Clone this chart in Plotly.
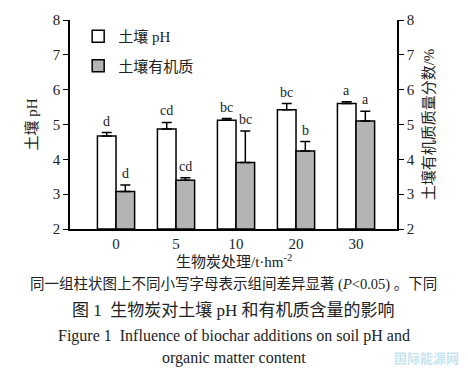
import plotly.graph_objects as go

categories = ["0", "5", "10", "20", "30"]
ph_values = [4.67, 4.87, 5.12, 5.42, 5.60]
ph_err = [0.10, 0.19, 0.05, 0.18, 0.05]
ph_letters = ["d", "cd", "bc", "bc", "a"]
om_values = [3.08, 3.40, 3.91, 4.24, 5.10]
om_err = [0.18, 0.07, 0.90, 0.27, 0.28]
om_letters = ["d", "cd", "bc", "b", "a"]
y_ticks = [2, 3, 4, 5, 6, 7, 8]

SERIF = "Liberation Serif, Times New Roman, Noto Sans CJK SC"
CJK = "Liberation Serif, Noto Sans CJK SC"

xs = list(range(len(categories)))
bar_w = 0.31

fig = go.Figure()
fig.add_trace(go.Bar(
    x=xs, y=[v - 2 for v in ph_values], base=2, name="土壤 pH", legendgroup="ph",
    marker=dict(color="white", line=dict(color="black", width=1.5)),
    error_y=dict(type="data", symmetric=False, array=ph_err, arrayminus=[0]*5,
                 color="black", thickness=1.5, width=5),
    offset=-bar_w, width=bar_w,
))
fig.add_trace(go.Bar(
    x=xs, y=[v - 2 for v in om_values], base=2, name="土壤有机质", legendgroup="om",
    marker=dict(color="#b4b4b4", line=dict(color="black", width=1.5)),
    error_y=dict(type="data", symmetric=False, array=om_err, arrayminus=[0]*5,
                 color="black", thickness=1.5, width=5),
    offset=0, width=bar_w,
))
# invisible trace so the right axis is drawn
fig.add_trace(go.Scatter(x=xs, y=om_values, yaxis="y2", mode="markers",
                         marker=dict(opacity=0), showlegend=False, hoverinfo="skip"))

annotations = []
for i in xs:
    annotations.append(dict(x=i - bar_w / 2, y=ph_values[i] + ph_err[i], text=ph_letters[i],
                            showarrow=False, yanchor="bottom", yshift=2,
                            font=dict(family=SERIF, size=14, color="#222")))
    annotations.append(dict(x=i + bar_w / 2, y=om_values[i] + om_err[i], text=om_letters[i],
                            showarrow=False, yanchor="bottom", yshift=2,
                            font=dict(family=SERIF, size=14, color="#222")))

plot_left, plot_right, plot_top, plot_bottom = 70, 397, 12, 229
W, H = 468, 378


def px_to_paper(px, py):
    return ((px - plot_left) / (plot_right - plot_left),
            (plot_bottom - py) / (plot_bottom - plot_top))


captions = [
    dict(text="生物炭处理/t·hm<sup>-2</sup>", y=262, size=15, fam=CJK),
    dict(text="同一组柱状图上不同小写字母表示组间差异显著 (<i>P</i><0.05) 。下同", y=287, size=14.5, fam=CJK),
    dict(text="图 1  生物炭对土壤 pH 和有机质含量的影响", y=313, size=17, fam=CJK),
    dict(text="Figure 1  Influence of biochar additions on soil pH and", y=340, size=16, fam=SERIF),
    dict(text="organic matter content", y=363, size=16, fam=SERIF),
]
for c in captions:
    ax, ay = px_to_paper(234, c["y"])
    annotations.append(dict(x=ax, y=ay, xref="paper", yref="paper", yanchor="middle",
                            text=c["text"], showarrow=False,
                            font=dict(family=c["fam"], size=c["size"], color="#222")))

wx, wy = px_to_paper(392, 362)
annotations.append(dict(x=wx, y=wy, xref="paper", yref="paper", xanchor="left", yanchor="middle",
                        text="<b>国际能源网</b>", showarrow=False,
                        font=dict(family="Noto Sans CJK SC", size=13, color="rgba(110,185,215,0.4)")))

fig.update_layout(
    width=W, height=H,
    margin=dict(l=plot_left, r=W - plot_right, t=plot_top, b=H - plot_bottom),
    paper_bgcolor="white", plot_bgcolor="white",
    barmode="overlay",
    showlegend=True,
    legend=dict(x=0.025, y=1.0, xanchor="left", yanchor="top",
                font=dict(family=CJK, size=15, color="#222"),
                bgcolor="rgba(0,0,0,0)", tracegroupgap=7, itemwidth=30),
    xaxis=dict(tickmode="array", tickvals=xs, ticktext=categories,
               range=[-0.767, 4.683], showline=True, linecolor="black", linewidth=1.5,
               ticks="", showgrid=False, zeroline=False,
               tickfont=dict(family=SERIF, size=15, color="#222")),
    yaxis=dict(range=[2, 8], tickvals=y_ticks, showline=True, linecolor="black", linewidth=1.5,
               ticks="outside", ticklen=5, tickcolor="black", showgrid=False, zeroline=False,
               tickfont=dict(family=SERIF, size=15, color="#222"),
               title=dict(text="土壤 pH", font=dict(family=CJK, size=15, color="#222"), standoff=12)),
    yaxis2=dict(range=[2, 8], tickvals=y_ticks, overlaying="y", side="right",
                showline=True, linecolor="black", linewidth=1.5,
                ticks="outside", ticklen=5, tickcolor="black", showgrid=False, zeroline=False,
                tickfont=dict(family=SERIF, size=15, color="#222"),
                title=dict(text="土壤有机质质量分数/%", font=dict(family=CJK, size=15, color="#222"), standoff=10)),
    annotations=annotations,
)

fig.write_html("out.html")
